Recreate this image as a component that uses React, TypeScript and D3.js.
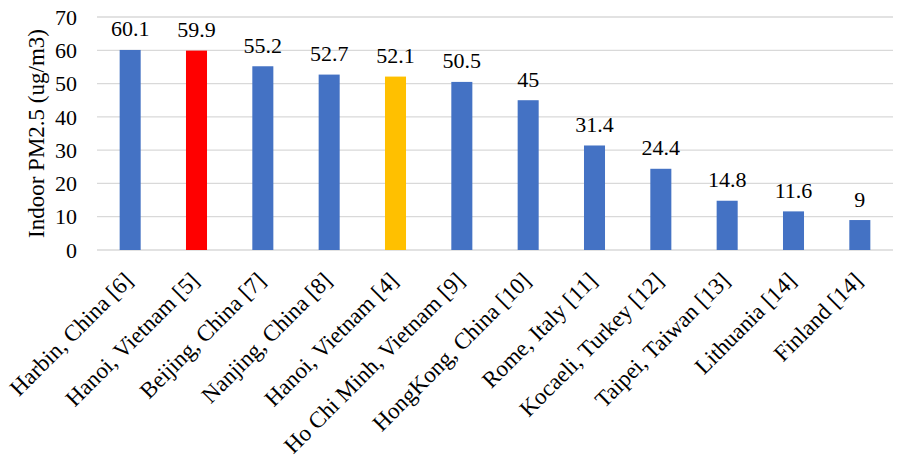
import React from "react";
import * as d3 from "d3";

const categories = [
  "Harbin, China [6]",
  "Hanoi, Vietnam [5]",
  "Beijing, China [7]",
  "Nanjing, China [8]",
  "Hanoi, Vietnam [4]",
  "Ho Chi Minh, Vietnam [9]",
  "HongKong, China [10]",
  "Rome, Italy [11]",
  "Kocaeli, Turkey [12]",
  "Taipei, Taiwan [13]",
  "Lithuania [14]",
  "Finland [14]",
];
const values = [60.1, 59.9, 55.2, 52.7, 52.1, 50.5, 45, 31.4, 24.4, 14.8, 11.6, 9];
const valueLabels = ["60.1", "59.9", "55.2", "52.7", "52.1", "50.5", "45", "31.4", "24.4", "14.8", "11.6", "9"];
const barColors = ["#4472C4", "#FF0000", "#4472C4", "#4472C4", "#FFC000", "#4472C4", "#4472C4", "#4472C4", "#4472C4", "#4472C4", "#4472C4", "#4472C4"];
const yTicks = [0, 10, 20, 30, 40, 50, 60, 70];
const yTitle = "Indoor PM2.5 (ug/m3)";

export default function App() {
  const W = 909, H = 457;
  const left = 97, right = 893, top = 17, bottom = 250;
  const font = "Liberation Serif, Times New Roman, serif";
  const fs = 22;
  const x = d3.scaleBand<string>().domain(categories).range([left, right]).paddingInner(0.683).paddingOuter(0.3415);
  const y = d3.scaleLinear().domain([0, 70]).range([bottom, top]);
  return (
    <svg width={W} height={H} style={{ position: "absolute", left: 0, top: 0, background: "#fff", fontFamily: font }}>
      {yTicks.map((t) => (
        <g key={t}>
          <line x1={left} x2={right} y1={y(t)} y2={y(t)} stroke="#D9D9D9" strokeWidth={1.3} />
          <text x={77} y={y(t)} dy="0.35em" textAnchor="end" fontSize={fs} fill="#000" style={{ fontFamily: font }}>{t}</text>
        </g>
      ))}
      {categories.map((c, i) => {
        const bx = x(c)!;
        const cx = bx + x.bandwidth() / 2;
        return (
          <g key={c}>
            <rect x={bx} y={y(values[i])} width={x.bandwidth()} height={y(0) - y(values[i])} fill={barColors[i]} />
            <text x={cx} y={y(values[i]) - 13.5} textAnchor="middle" fontSize={fs} fill="#000" style={{ fontFamily: font }}>{valueLabels[i]}</text>
            <text transform={`translate(${cx + 4},${bottom + 32}) rotate(-45)`} textAnchor="end" fontSize={23} fill="#000" style={{ fontFamily: font }}>{c}</text>
          </g>
        );
      })}
      <text transform={`translate(44,${(top + bottom) / 2}) rotate(-90)`} textAnchor="middle" fontSize={23} fill="#000" style={{ fontFamily: font }}>{yTitle}</text>
    </svg>
  );
}
